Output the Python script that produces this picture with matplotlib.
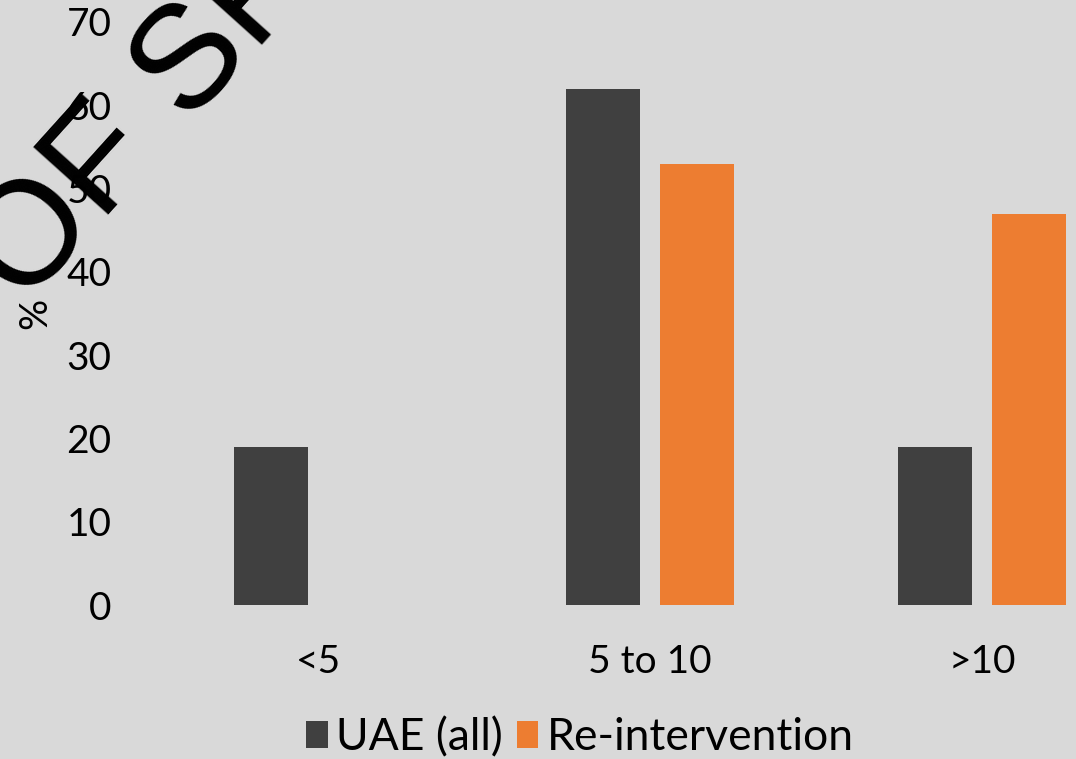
import matplotlib
matplotlib.use("Agg")
import matplotlib.pyplot as plt
import numpy as np

# data
categories = ["<5", "5 to 10", ">10"]
uae_all = [19, 62, 19]
re_intervention = [0, 53, 47]
series_names = ["UAE (all)", "Re-intervention"]

bg = "#d9d9d9"
dark = "#404040"
orange = "#ed7d31"

plt.rcParams["font.family"] = ["Lato", "DejaVu Sans"]

fig = plt.figure(figsize=(10.76, 7.59), dpi=100, facecolor=bg)
# plot area runs past the right edge of the figure
ax = fig.add_axes([152 / 1076, 154 / 759, 996 / 1076, 583 / 759])
ax.set_facecolor(bg)

x = np.arange(len(categories))
w = 0.223
off = 0.142
ax.bar(x - off, uae_all, w, color=dark, label=series_names[0], clip_on=False)
ax.bar(x + off, re_intervention, w, color=orange, label=series_names[1], clip_on=False)

ax.set_xlim(-0.5, 2.5)
ax.set_ylim(0, 70)
ax.set_yticks(range(0, 71, 10))
ax.set_xticks(x, categories)
ax.tick_params(axis="y", length=0, pad=29, labelsize=28, labelcolor="black")
ax.tick_params(axis="x", length=0, pad=28, labelsize=28, labelcolor="black")
for s in ax.spines.values():
    s.set_visible(False)

ax.set_ylabel("%", fontsize=28, rotation=90)
ax.yaxis.set_label_coords(-0.099, 0.5)

fig.legend(loc="center", bbox_to_anchor=(0.539, 0.028), ncol=2, frameon=False,
           fontsize=32, handlelength=0.48, handleheight=0.55, handletextpad=0.2,
           columnspacing=0.3, borderpad=0)

# diagonal stamp text
fig.text(24 / 1076, 1 - 308 / 759, "OF SP", fontsize=106, rotation=48,
         rotation_mode="anchor", ha="left", va="baseline",
         family=["Liberation Sans"], color="black")

fig.savefig("out.png", dpi=100, facecolor=bg)
